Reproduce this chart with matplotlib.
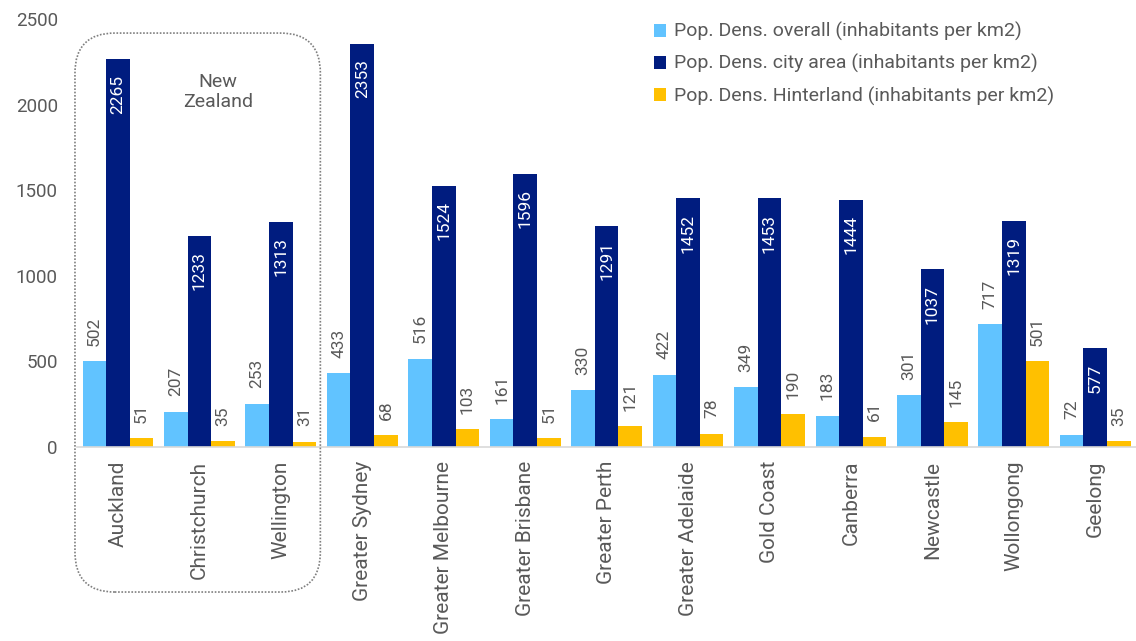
import matplotlib.pyplot as plt
import numpy as np
from matplotlib.patches import FancyBboxPatch

plt.rcParams['font.family'] = ['Roboto', 'DejaVu Sans']

cities = ['Auckland', 'Christchurch', 'Wellington', 'Greater Sydney', 'Greater Melbourne',
          'Greater Brisbane', 'Greater Perth', 'Greater Adelaide', 'Gold Coast', 'Canberra',
          'Newcastle', 'Wollongong', 'Geelong']
overall = [502, 207, 253, 433, 516, 161, 330, 422, 349, 183, 301, 717, 72]
city_area = [2265, 1233, 1313, 2353, 1524, 1596, 1291, 1452, 1453, 1444, 1037, 1319, 577]
hinterland = [51, 35, 31, 68, 103, 51, 121, 78, 190, 61, 145, 501, 35]

labels = ['Pop. Dens. overall (inhabitants per km2)',
          'Pop. Dens. city area (inhabitants per km2)',
          'Pop. Dens. Hinterland (inhabitants per km2)']
colors = ['#61C3FF', '#001C7F', '#FFC000']
grey = '#595959'

fig = plt.figure(figsize=(11.36, 6.41), dpi=100)
ax = fig.add_axes([0.068, 0.3027, 0.932, 0.6676])

x = np.arange(len(cities))
w = 0.29
b1 = ax.bar(x - w, overall, w, color=colors[0], label=labels[0])
b2 = ax.bar(x, city_area, w, color=colors[1], label=labels[1])
b3 = ax.bar(x + w, hinterland, w, color=colors[2], label=labels[2])

# value labels: outside for light bars, white inside the dark bars
for bars in (b1, b3):
    for r in bars:
        ax.annotate(f'{int(r.get_height())}', (r.get_x() + r.get_width() / 2, r.get_height()),
                    xytext=(0, 11), textcoords='offset points', rotation=90,
                    ha='center', va='bottom', fontsize=12.5, color=grey)
for r in b2:
    ax.annotate(f'{int(r.get_height())}', (r.get_x() + r.get_width() / 2, r.get_height()),
                xytext=(0, -11), textcoords='offset points', rotation=90,
                ha='center', va='top', fontsize=12.5, color='white')

ax.set_xlim(-0.5, len(cities) - 0.5)
ax.set_ylim(0, 2500)
ax.set_yticks(range(0, 2501, 500))
ax.set_xticks(x)
ax.set_xticklabels(cities, rotation=90, fontsize=15, color=grey)
ax.tick_params(axis='y', labelsize=13.5, colors=grey, length=0, pad=14)
ax.tick_params(axis='x', length=0, pad=10)
for s in ['top', 'right', 'left']:
    ax.spines[s].set_visible(False)
ax.spines['bottom'].set_color('#D9D9D9')
ax.spines['bottom'].set_linewidth(1.2)

leg = ax.legend(loc='upper left', bbox_to_anchor=(0.528, 1.034), frameon=False, fontsize=14,
                handlelength=0.65, handleheight=0.65, handletextpad=0.4, labelspacing=0.67)
for t in leg.get_texts():
    t.set_color(grey)

# dotted rounded frame around the New Zealand cities
box = FancyBboxPatch((0.066, 0.0764), 0.216, 0.872, boxstyle='round,pad=0,rounding_size=0.035',
                     transform=fig.transFigure, fill=False, edgecolor='#7F7F7F',
                     linestyle=(0, (1, 1)), linewidth=1.2, mutation_aspect=1.77)
fig.patches.append(box)
fig.text(0.192, 0.857, 'New\nZealand', ha='center', va='center', fontsize=14,
         color=grey, linespacing=1.15)

fig.savefig('out.png', dpi=100)
